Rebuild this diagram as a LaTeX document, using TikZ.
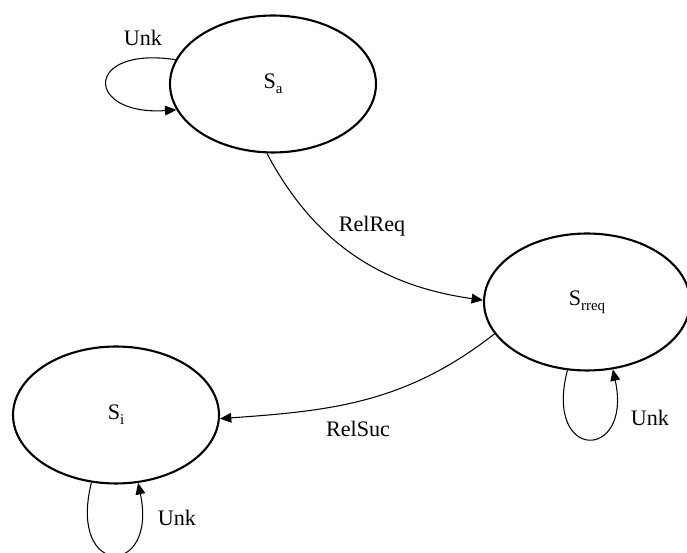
\documentclass[tikz,border=0pt]{standalone}
\usepackage{fontspec}
\setmainfont{Liberation Serif}
\usetikzlibrary{shapes.geometric, arrows.meta}
\tikzset{
    state/.style={draw, ellipse, line width=1.2pt, minimum width=4.12cm, minimum height=2.74cm, inner sep=0pt, font=\fontsize{12.6}{15}\selectfont},
    arrow/.style={-{Triangle[length=6.5pt,width=5.5pt]}, line width=0.6pt},
    lbl/.style={font=\fontsize{12.6}{15}\selectfont, inner sep=1pt}
}
\newcommand{\lowsub}[1]{\raisebox{-0.5ex}{\fontsize{8.5}{10}\selectfont #1}}

\begin{document}
\begin{tikzpicture}[x=0.02cm, y=-0.02cm]
        \useasboundingbox (0,0) rectangle (687,553);
        \node [state] (sa) at (273,84) {S\lowsub{a}};
        \node [state] (srreq) at (587,302) {S\lowsub{rreq}};
        \node [state] (si) at (116,415) {S\lowsub{i}};
        \node [lbl] (unka) at (143,38) {Unk};
        \node [lbl] (unkr) at (650,418) {Unk};
        \node [lbl] (unki) at (177,518) {Unk};
        \node [lbl] (relreq) at (372,226) {RelReq};
        \node [lbl] (relsuc) at (358,429) {RelSuc};
        \draw [arrow] (sa.166) .. controls +(-92,-14) and +(-92,6) .. (sa.195);
        \draw [arrow] (srreq.254) .. controls +(-24,92) and +(20,92) .. (srreq.291);
        \draw [arrow] (si.250) .. controls +(-24,96) and +(20,95) .. (si.288);
        \draw [arrow] (sa.265) to[out=-62, in=172] (srreq.179);
        \draw [arrow] (srreq.199) to[out=218, in=4] (si.358);
    \end{tikzpicture}
\end{document}
